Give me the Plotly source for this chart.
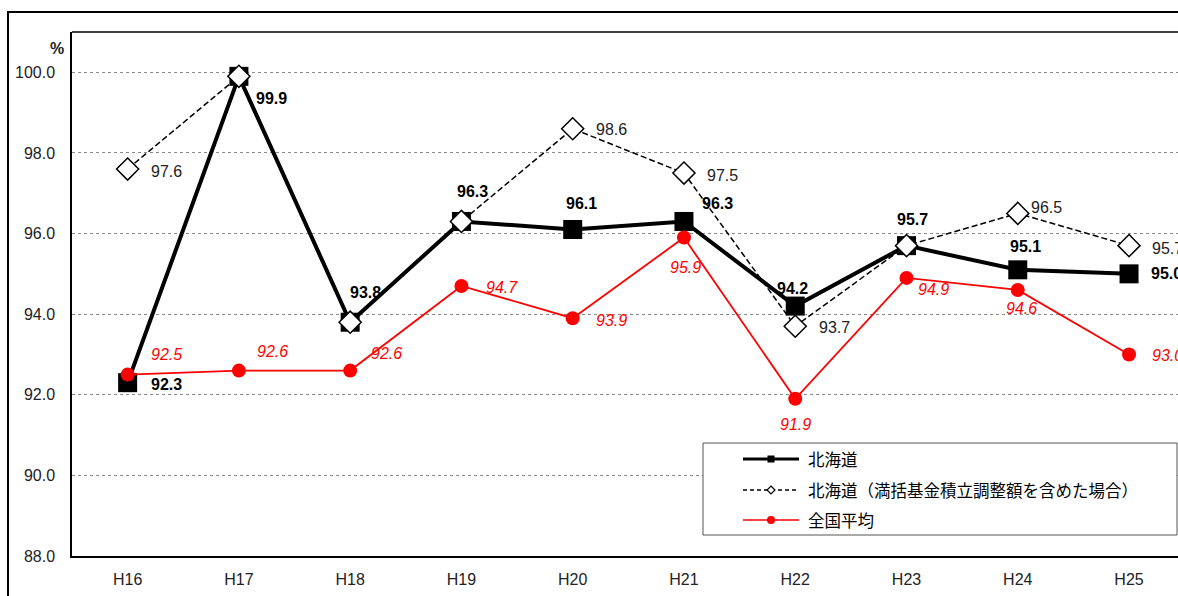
import plotly.graph_objects as go

# 年度カテゴリ
years = ["H16", "H17", "H18", "H19", "H20", "H21", "H22", "H23", "H24", "H25"]

# 北海道
hokkaido = [92.3, 99.9, 93.8, 96.3, 96.1, 96.3, 94.2, 95.7, 95.1, 95.0]
# 北海道（満括基金積立調整額を含めた場合）
hokkaido_adj = [97.6, 99.9, 93.8, 96.3, 98.6, 97.5, 93.7, 95.7, 96.5, 95.7]
# 全国平均
national = [92.5, 92.6, 92.6, 94.7, 93.9, 95.9, 91.9, 94.9, 94.6, 93.0]

# which adjusted values carry a label (the others coincide with 北海道)
adj_labeled = [True, False, False, False, True, True, True, False, True, True]

# label offsets in pixels (dx right, dy down) from each point
off_hok = [(39, 2), (33, 22), (15, -30), (11, -30), (9, -26),
           (34, -18), (-3, -18), (6, -26), (8, -23), (37, 0)]
off_adj = [(39, 2), (0, 0), (0, 0), (0, 0), (39, 1),
           (39, 2), (39, 1), (0, 0), (29, -6), (38, 3)]
off_nat = [(39, -20), (34, -19), (36, -17), (41, 2), (39, 2),
           (2, 30), (0, 26), (27, 12), (4, 19), (38, 1)]

NUM_FONT = "Liberation Sans"
JP_FONT = "Noto Sans CJK JP"

W, H = 1178, 596
ML, MR, MT, MB = 72, 0, 32, 40
PW, PH = W - ML - MR, H - MT - MB


def px(x):
    return (x - ML) / PW


def py(y):
    return 1 - (y - MT) / PH


fig = go.Figure()

fig.add_trace(go.Scatter(
    x=years, y=hokkaido, mode="lines+markers", name="北海道",
    line=dict(color="black", width=4),
    marker=dict(symbol="square", size=19, color="black"),
    showlegend=False, cliponaxis=False,
))
fig.add_trace(go.Scatter(
    x=years, y=hokkaido_adj, mode="lines+markers",
    name="北海道（満括基金積立調整額を含めた場合）",
    line=dict(color="black", width=1.5, dash="6px,3px"),
    marker=dict(symbol="diamond", size=17, color="white",
                line=dict(color="black", width=1.5)),
    showlegend=False, cliponaxis=False,
))
fig.add_trace(go.Scatter(
    x=years, y=national, mode="lines+markers", name="全国平均",
    line=dict(color="#ff0000", width=1.8),
    marker=dict(symbol="circle", size=14, color="#ff0000"),
    showlegend=False, cliponaxis=False,
))

annotations = []
for i, yr in enumerate(years):
    dx, dy = off_hok[i]
    annotations.append(dict(
        x=yr, y=hokkaido[i], xref="x", yref="y", text=f"<b>{hokkaido[i]:.1f}</b>",
        showarrow=False, xshift=dx, yshift=-dy,
        font=dict(family=NUM_FONT, size=16, color="black")))
    if adj_labeled[i]:
        dx, dy = off_adj[i]
        annotations.append(dict(
            x=yr, y=hokkaido_adj[i], xref="x", yref="y", text=f"{hokkaido_adj[i]:.1f}",
            showarrow=False, xshift=dx, yshift=-dy,
            font=dict(family=NUM_FONT, size=16, color="#222222")))
    dx, dy = off_nat[i]
    annotations.append(dict(
        x=yr, y=national[i], xref="x", yref="y", text=f"<i>{national[i]:.1f}</i>",
        showarrow=False, xshift=dx, yshift=-dy,
        font=dict(family=NUM_FONT, size=16, color="#ff0000")))

# unit label above the y axis
annotations.append(dict(
    x=px(66), y=py(48), xref="paper", yref="paper", text="<b>%</b>",
    showarrow=False, xanchor="right", yanchor="middle",
    font=dict(family=NUM_FONT, size=16, color="#222222")))

shapes = [
    # outer frame
    dict(type="rect", xref="paper", yref="paper",
         x0=px(8), x1=px(1200), y0=py(12), y1=py(620),
         line=dict(color="black", width=2), fillcolor="rgba(0,0,0,0)", layer="below"),
    # top edge of the plot area
    dict(type="line", xref="paper", yref="paper", x0=0, x1=1.01, y0=1, y1=1,
         line=dict(color="black", width=1.5), layer="above"),
    # legend box
    dict(type="rect", xref="paper", yref="paper",
         x0=px(703), x1=px(1177), y0=py(535), y1=py(443),
         line=dict(color="#555555", width=1), fillcolor="white", layer="above"),
]

legend_items = [
    ("北海道", 459, dict(color="black", width=3), "square"),
    ("北海道（満括基金積立調整額を含めた場合）", 490,
     dict(color="black", width=1.5, dash="4px,3px"), "diamond"),
    ("全国平均", 520, dict(color="#ff0000", width=1.5), "circle"),
]
for label, yc, ln, sym in legend_items:
    shapes.append(dict(type="line", xref="paper", yref="paper",
                       x0=px(743), x1=px(799), y0=py(yc), y1=py(yc),
                       line=ln, layer="above"))
    base = dict(xref="paper", yref="paper", xsizemode="pixel", ysizemode="pixel",
                xanchor=px(771), yanchor=py(yc), layer="above")
    if sym == "square":
        shapes.append(dict(type="rect", x0=-3.5, x1=3.5, y0=-3.5, y1=3.5,
                           fillcolor="black", line=dict(width=0), **base))
    elif sym == "diamond":
        shapes.append(dict(type="path", path="M0,4 L4,0 L0,-4 L-4,0 Z",
                           fillcolor="white", line=dict(color="black", width=1.2), **base))
    else:
        shapes.append(dict(type="circle", x0=-4, x1=4, y0=-4, y1=4,
                           fillcolor="#ff0000", line=dict(width=0), **base))
    annotations.append(dict(
        x=px(806), y=py(yc), xref="paper", yref="paper", text=label,
        showarrow=False, xanchor="left", yanchor="middle",
        font=dict(family=JP_FONT, size=16.5, color="black")))

fig.update_layout(
    width=W, height=H,
    margin=dict(l=ML, r=MR, t=MT, b=MB, pad=0),
    paper_bgcolor="white", plot_bgcolor="white",
    showlegend=False,
    shapes=shapes, annotations=annotations,
    xaxis=dict(
        type="category", range=[-0.5, 9.44],
        showgrid=False, zeroline=False,
        showline=True, linecolor="black", linewidth=1.5, mirror=False,
        ticks="", ticklabelstandoff=8,
        tickfont=dict(family=NUM_FONT, size=16, color="#222222"),
    ),
    yaxis=dict(
        range=[88, 101], tick0=88, dtick=2, tickformat=".1f",
        showgrid=True, gridcolor="#8a8a8a", gridwidth=1, griddash="dot",
        zeroline=False,
        showline=True, linecolor="black", linewidth=1.5, mirror=False,
        ticks="", ticklabelstandoff=12,
        tickfont=dict(family=NUM_FONT, size=16, color="#222222"),
    ),
)

fig.write_html("out.html")
